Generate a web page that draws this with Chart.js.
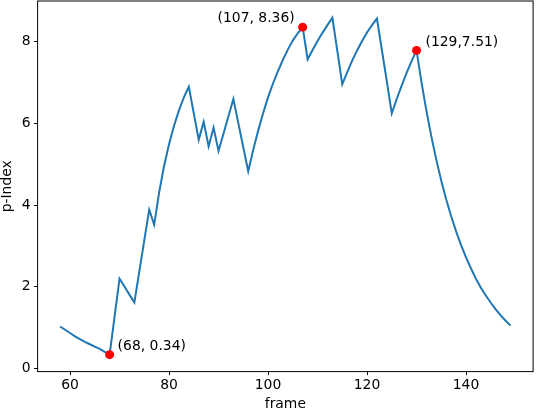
<!DOCTYPE html>
<html>
<head>
<meta charset="utf-8">
<script src="https://cdn.jsdelivr.net/npm/chart.js@4.4.1/dist/chart.umd.min.js"></script>
<style>
  html, body { margin: 0; padding: 0; background: #fff; }
  canvas { display: block; }
</style>
</head>
<body>
<canvas id="chart" width="536" height="410"></canvas>
<script>
// Frames on the x axis
const frames = [
    58, 59, 60, 61, 62, 63, 64, 65, 66, 67, 68, 69, 70, 71, 72, 73, 74, 75, 76, 77,
    78, 79, 80, 81, 82, 83, 84, 85, 86, 87, 88, 89, 90, 91, 92, 93, 94, 95, 96, 97,
    98, 99, 100, 101, 102, 103, 104, 105, 106, 107, 108, 109, 110, 111, 112, 113, 114, 115, 116, 117,
    118, 119, 120, 121, 122, 123, 124, 125, 126, 127, 128, 129, 130, 131, 132, 133, 134, 135, 136, 137,
    138, 139, 140, 141, 142, 143, 144, 145, 146, 147, 148, 149
];

// p-Index value per frame
const pIndex = [
    1.03, 0.95, 0.87, 0.79, 0.72, 0.655, 0.595, 0.535, 0.48, 0.41, 0.34, 1.27, 2.20, 2.01, 1.81, 1.62, 2.38, 3.14, 3.89, 3.52,
    4.31, 4.96, 5.49, 5.94, 6.32, 6.64, 6.90, 6.25, 5.60, 6.04, 5.44, 5.90, 5.33, 5.75, 6.18, 6.60, 6.01, 5.42, 4.83, 5.35,
    5.82, 6.25, 6.64, 6.98, 7.28, 7.56, 7.81, 8.03, 8.21, 8.36, 7.57, 7.80, 8.02, 8.22, 8.41, 8.59, 7.78, 6.96, 7.26, 7.54,
    7.79, 8.02, 8.23, 8.41, 8.57, 7.80, 7.03, 6.25, 6.60, 6.93, 7.24, 7.53, 7.79, 7.01, 6.31, 5.68, 5.11, 4.60, 4.14, 3.73,
    3.36, 3.02, 2.72, 2.45, 2.20, 1.98, 1.79, 1.61, 1.45, 1.30, 1.17, 1.05
];

// Marked points and their labels
const markFrames = [68, 107, 130];
const markValues = [0.34, 8.36, 7.79];
const markLabels = ['(68, 0.34)', '(107, 8.36)', '(129,7.51)'];

// Tick labels
const xTicks = [60, 80, 100, 120, 140];
const yTicks = [0, 2, 4, 6, 8];

const FONT = { family: 'DejaVu Sans', size: 13.9, lineHeight: 1 };

// Label placement relative to the marker: [dx, dy, align]
const labelPlacement = [
    [8, -8, 'left'],
    [-8, -9, 'right'],
    [9, -8, 'left']
];

// Box around the plot area plus the point labels
const framePlugin = {
    id: 'frameBox',
    afterDatasetsDraw(chart) {
        const { ctx, chartArea, scales } = chart;
        ctx.save();
        ctx.strokeStyle = '#000';
        ctx.lineWidth = 1;
        ctx.strokeRect(chartArea.left, chartArea.top, chartArea.right - chartArea.left, chartArea.bottom - chartArea.top);

        ctx.fillStyle = '#000';
        ctx.font = FONT.size + 'px "' + FONT.family + '"';
        ctx.textBaseline = 'middle';
        markLabels.forEach((text, i) => {
            const px = scales.x.getPixelForValue(markFrames[i]);
            const py = scales.y.getPixelForValue(markValues[i]);
            const [dx, dy, align] = labelPlacement[i];
            ctx.textAlign = align;
            ctx.fillText(text, px + dx, py + dy);
        });
        ctx.restore();
    }
};

Chart.defaults.color = '#000';
Chart.defaults.font.family = FONT.family;
Chart.defaults.font.size = FONT.size;

const axisGrid = {
    drawOnChartArea: false,
    drawTicks: true,
    tickLength: 3.5,
    tickColor: '#000',
    tickWidth: 1
};

new Chart(document.getElementById('chart').getContext('2d'), {
    type: 'line',
    data: {
        datasets: [
            {
                label: 'marks',
                data: markFrames.map((f, i) => ({ x: f, y: markValues[i] })),
                showLine: false,
                pointRadius: 4.5,
                pointBackgroundColor: '#ff0000',
                pointBorderWidth: 0,
                order: 0
            },
            {
                label: 'p-Index',
                data: frames.map((f, i) => ({ x: f, y: pIndex[i] })),
                borderColor: '#1f77b4',
                borderWidth: 2,
                pointRadius: 0,
                tension: 0,
                fill: false,
                order: 1
            }
        ]
    },
    options: {
        responsive: false,
        animation: false,
        devicePixelRatio: 1,
        layout: { autoPadding: false, padding: { left: 0, right: 2.9, top: 1, bottom: 0 } },
        plugins: {
            legend: { display: false },
            tooltip: { enabled: false }
        },
        scales: {
            x: {
                type: 'linear',
                min: 53.45,
                max: 153.55,
                border: { display: false },
                grid: axisGrid,
                ticks: { padding: 3, font: FONT },
                title: { display: true, text: 'frame', font: FONT, padding: { top: 0, bottom: -1.5 } },
                afterBuildTicks: scale => { scale.ticks = xTicks.map(v => ({ value: v })); },
                afterFit: scale => {
                    scale.height = 38.4;
                    scale.paddingLeft = 0;
                    scale.paddingRight = 0;
                }
            },
            y: {
                type: 'linear',
                min: -0.075,
                max: 9.0,
                border: { display: false },
                grid: axisGrid,
                ticks: { padding: 3.5, font: FONT },
                title: { display: true, text: 'p-Index', font: FONT, padding: { top: 0, bottom: 0 } },
                afterBuildTicks: scale => { scale.ticks = yTicks.map(v => ({ value: v })); },
                afterFit: scale => {
                    scale.width = 37.6;
                    scale.paddingTop = 0;
                    scale.paddingBottom = 0;
                }
            }
        }
    },
    plugins: [framePlugin]
});
</script>
</body>
</html>
